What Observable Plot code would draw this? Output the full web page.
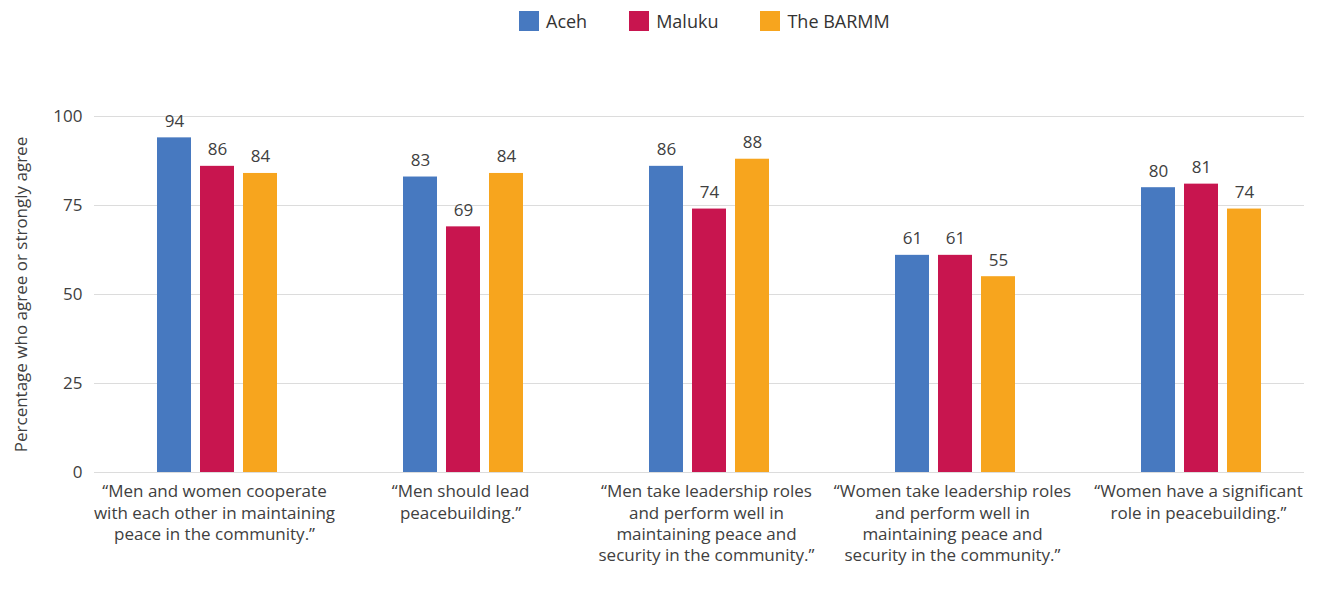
<!DOCTYPE html>
<html>
<head>
<meta charset="utf-8">
<script src="https://cdn.jsdelivr.net/npm/d3@7"></script>
<script src="https://cdn.jsdelivr.net/npm/@observablehq/plot@0.6"></script>
<style>
  body { margin: 0; background: #fff; font-family: "Open Sans", sans-serif; }
  #legend { height: 42px; display: flex; align-items: center; padding-left: 519px; font-size: 18px; color: #333; }
  .item { display: flex; align-items: center; margin-right: 42px; }
  .sw { width: 20px; height: 20px; margin-right: 7px; }
</style>
</head>
<body>
<div id="legend"></div>
<div id="chart"></div>
<script>
const categories = [
  "“Men and women cooperate\nwith each other in maintaining\npeace in the community.”",
  "“Men should lead\npeacebuilding.”",
  "“Men take leadership roles\nand perform well in\nmaintaining peace and\nsecurity in the community.”",
  "“Women take leadership roles\nand perform well in\nmaintaining peace and\nsecurity in the community.”",
  "“Women have a significant\nrole in peacebuilding.”"
];
const regions = ["Aceh", "Maluku", "The BARMM"];
const colors = ["#4779C0", "#C8154F", "#F7A51E"];
const aceh = [94, 83, 86, 61, 80];
const maluku = [86, 69, 74, 61, 81];
const barmm = [84, 84, 88, 55, 74];
const yTicks = [0, 25, 50, 75, 100];

const series = [aceh, maluku, barmm];
const data = [];
categories.forEach((c, i) => regions.forEach((r, j) => data.push({category: c, region: r, value: series[j][i]})));

const legend = document.getElementById("legend");
regions.forEach((r, j) => {
  const it = document.createElement("div");
  it.className = "item";
  it.innerHTML = `<div class="sw" style="background:${colors[j]}"></div><span>${r}</span>`;
  legend.appendChild(it);
});

const chart = Plot.plot({
  width: 1304,
  height: 555,
  marginTop: 74,
  marginBottom: 125,
  marginLeft: 95,
  marginRight: 0,
  style: {fontFamily: "Open Sans", fontSize: "17px", color: "#404040"},
  fx: {domain: categories, range: [93.5, 1323.5], paddingInner: 0, paddingOuter: 0, label: null},
  x: {domain: regions, paddingInner: 0.218, paddingOuter: 1.437, axis: null},
  y: {domain: [0, 100], ticks: yTicks, label: null},
  color: {domain: regions, range: colors},
  marks: [
    Plot.ruleY(yTicks, {stroke: "#dcdcdc", strokeWidth: 1.2}),
    Plot.axisY({ticks: yTicks, tickSize: 0, tickPadding: 12, fontSize: 17, label: "Percentage who agree or strongly agree", labelAnchor: "center", labelArrow: "none", labelOffset: 80, color: "#404040"}),
    Plot.axisFx({anchor: "bottom", tickSize: 0, tickPadding: 10, fontSize: 17, lineHeight: 1.24, dx: -3, label: null, color: "#404040"}),
    Plot.barY(data, {fx: "category", x: "region", y: "value", fill: "region"}),
    Plot.text(data, {fx: "category", x: "region", y: "value", text: d => String(d.value), lineAnchor: "bottom", dy: -11, fontSize: 17, fill: "#404040"})
  ]
});
document.getElementById("chart").appendChild(chart);
</script>
</body>
</html>
